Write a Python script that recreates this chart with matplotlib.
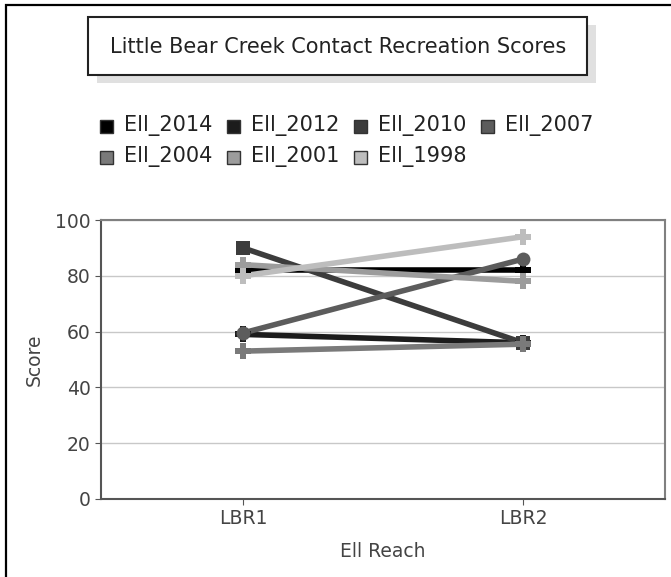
import matplotlib
matplotlib.use("Agg")
import matplotlib.pyplot as plt
from matplotlib.patches import Rectangle

# data
reaches = ["LBR1", "LBR2"]
series_names = ["Ell_2014", "Ell_2012", "Ell_2010", "Ell_2007", "Ell_2004", "Ell_2001", "Ell_1998"]
ell_2014 = [82, 82]
ell_2012 = [59, 56]
ell_2010 = [90, 56]
ell_2007 = [59.5, 86]
ell_2004 = [53, 55.5]
ell_2001 = [84, 78]
ell_1998 = [80, 94]
all_values = [ell_2014, ell_2012, ell_2010, ell_2007, ell_2004, ell_2001, ell_1998]

colors = ["#000000", "#1c1c1c", "#3c3c3c", "#5c5c5c", "#7a7a7a", "#9c9c9c", "#bdbdbd"]
markers = ["P", "P", "s", "o", "P", "P", "P"]

W, H = 671, 577
fig = plt.figure(figsize=(W / 100, H / 100), dpi=100)
fig.patch.set_facecolor("white")


def px(x, y):
    # pixel coords (from top-left) -> figure fraction
    return x / W, 1 - y / H


# outer border
fig.patches.append(Rectangle(px(6, 700), 900 / W, 695 / H, transform=fig.transFigure,
                             fill=False, edgecolor="black", linewidth=1.6))

# title box with shadow
bx0, by0, bx1, by1 = 88, 17, 587, 75
fig.patches.append(Rectangle(px(bx0 + 9, by1 + 8), (bx1 - bx0) / W, (by1 - by0) / H,
                             transform=fig.transFigure, facecolor="#e0e0e0", edgecolor="none"))
fig.patches.append(Rectangle(px(bx0, by1), (bx1 - bx0) / W, (by1 - by0) / H,
                             transform=fig.transFigure, facecolor="white",
                             edgecolor="#222222", linewidth=1.5))
fig.text(*px((bx0 + bx1) / 2 + 1, 47), "Little Bear Creek Contact Recreation Scores",
         ha="center", va="center", fontsize=15, color="#222222")

# legend, 4 per row
for i, (name, c) in enumerate(zip(series_names, colors)):
    row, col = divmod(i, 4)
    x0 = 100 + col * 127
    yc = 126 + row * 31
    fig.patches.append(Rectangle(px(x0, yc + 6.5), 13 / W, 13 / H, transform=fig.transFigure,
                                 facecolor=c, edgecolor="#333333", linewidth=1))
    fig.text(*px(x0 + 24, yc), name, ha="left", va="center", fontsize=15, color="#222222")

# plot area
ax = fig.add_axes([101 / W, (H - 499) / H, 564 / W, 279 / H])
xs = list(range(len(reaches)))
for vals, c in zip(all_values, colors):
    ax.plot(xs, vals, color=c, linewidth=4, solid_capstyle="butt", zorder=2)
for vals, c, m in zip(all_values, colors, markers):
    ax.plot(xs, vals, linestyle="none", marker=m, color=c, markersize=10 if m != "P" else 11.5,
            markeredgewidth=0, zorder=3)

ax.set_xlim(-0.507, 1.507)
ax.set_ylim(0, 100)
ax.set_yticks([0, 20, 40, 60, 80, 100])
ax.set_xticks(xs)
ax.set_xticklabels(reaches)
ax.grid(axis="y", color="#c8c8c8", linewidth=1)
ax.set_axisbelow(True)
ax.tick_params(direction="out", length=4, color="#555555", labelcolor="#444444", labelsize=13.5)
for s in ["left", "bottom"]:
    ax.spines[s].set_color("#555555")
    ax.spines[s].set_linewidth(1.5)
for s in ["top", "right"]:
    ax.spines[s].set_color("#808080")
    ax.spines[s].set_linewidth(1.5)
ax.set_xlabel("Ell Reach", fontsize=13.5, color="#444444", labelpad=10)
ax.set_ylabel("Score", fontsize=13.5, color="#444444", labelpad=8)

fig.savefig("out.png", dpi=100)
